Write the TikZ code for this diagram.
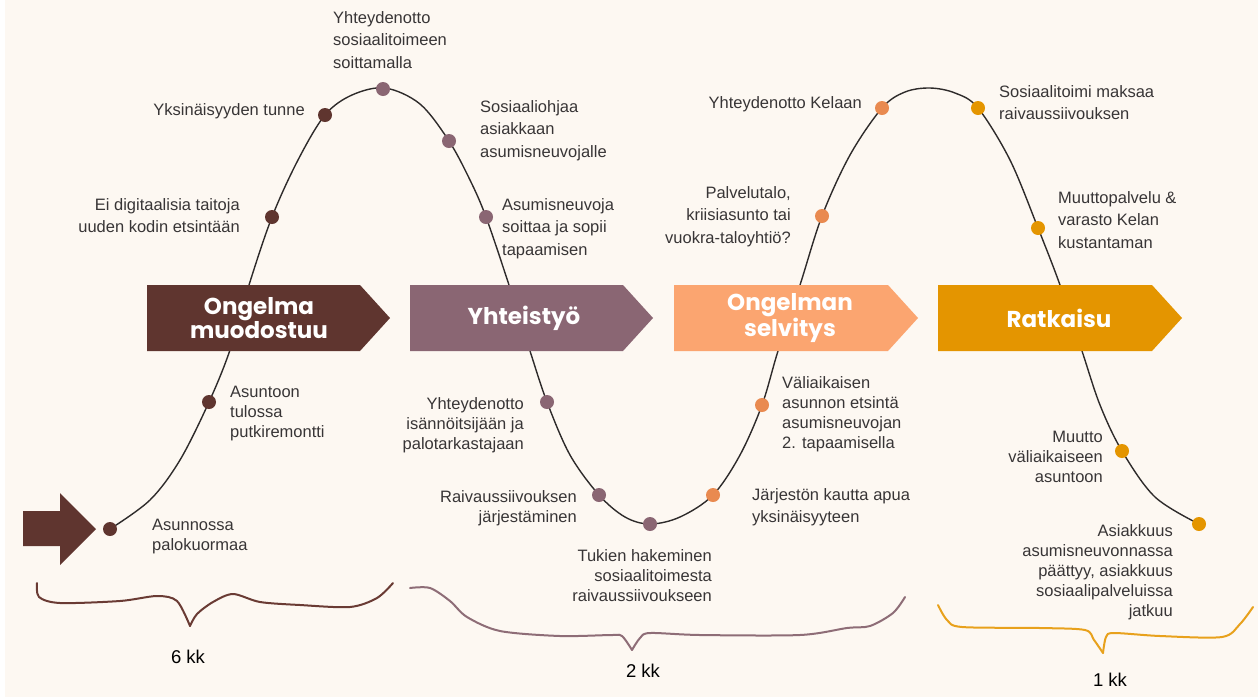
\documentclass[tikz,border=0pt]{standalone}
\usepackage{fontspec}
\setmainfont{Liberation Sans}
\newfontfamily\headfont{Poppins}
\definecolor{cream}{HTML}{FDF8F2}
\definecolor{ink}{HTML}{383536}
\definecolor{linec}{HTML}{2E2B2B}
\definecolor{cbrown}{HTML}{5F352F}
\definecolor{cmauve}{HTML}{8A6673}
\definecolor{cpeach}{HTML}{FBA570}
\definecolor{corange}{HTML}{E98A50}
\definecolor{camber}{HTML}{E49500}
\definecolor{bbrown}{HTML}{6A3B34}
\definecolor{bmauve}{HTML}{8E6D77}
\definecolor{bamber}{HTML}{E8A11C}
\begin{document}
\begin{tikzpicture}[x=1pt,y=-1pt,
  lbl/.style={inner sep=0pt, text=ink, font=\fontsize{16.5}{22.5}\selectfont},
  lblt/.style={inner sep=0pt, text=ink, font=\fontsize{16.5}{20}\selectfont},
  dot/.style={circle, inner sep=0pt, minimum size=14pt, fill=#1},
  head/.style={inner sep=0pt, text=white, align=center,
    font=\headfont\bfseries\fontsize{23}{23}\selectfont},
  wave/.style={linec, line width=1.4pt},
  brace/.style={line width=2pt, line cap=round, line join=round},
  months/.style={inner sep=0pt, text=black, font=\fontsize{18.5}{18.5}\selectfont}]

% page
\useasboundingbox (0,0) rectangle (1258,697);
\fill[white] (0,0) rectangle (1258,697);
\fill[cream] (5,0) rectangle (1258,697);

% the process curve
\draw[wave] plot[smooth, tension=0.55] coordinates {
  (110,529) (150,500) (180,460) (209,402) (230,350) (249,285) (272,217)
  (298,160) (325,115) (352,95) (385,88) (420,104) (449,141) (470,180)
  (486,217) (509,285) (530,351) (547,402) (570,455) (599,495) (625,517)
  (650,524) (680,517) (713,495) (740,455) (762,405) (778,351) (800,285)
  (822,216) (850,155) (882,108) (905,92) (930,88) (955,93) (978,108)
  (1010,160) (1038,228) (1060,285) (1082,351) (1100,405) (1122,451)
  (1155,497) (1199,524)};

% phase chevrons
\fill[cbrown] (147,285) -- (360,285) -- (390,318) -- (360,351) -- (147,351) -- cycle;
\fill[cmauve] (410,285) -- (623,285) -- (653,318) -- (623,351) -- (410,351) -- cycle;
\fill[cpeach] (674,285) -- (888,285) -- (918,318) -- (888,351) -- (674,351) -- cycle;
\fill[camber] (938,285) -- (1152,285) -- (1182,318) -- (1152,351) -- (938,351) -- cycle;
\node[head] (h1) at (259,318) {Ongelma\\muodostuu};
\node[head] (h2) at (524,318) {Yhteistyö};
\node[head] (h3) at (790,318) {Ongelman\\selvitys};
\node[head] (h4) at (1059,318) {Ratkaisu};

% start arrow
\fill[cbrown] (23,511) -- (60,511) -- (60,493) -- (96,529) -- (60,565) -- (60,546) -- (23,546) -- cycle;

% milestones
\node[dot=cbrown] (d1) at (110,529) {};
\node[dot=cbrown] (d2) at (209,402) {};
\node[dot=cbrown] (d3) at (272,217) {};
\node[dot=cbrown] (d4) at (325,115) {};
\node[dot=cmauve] (d5) at (383,89) {};
\node[dot=cmauve] (d6) at (449,141) {};
\node[dot=cmauve] (d7) at (486,217) {};
\node[dot=cmauve] (d8) at (547,402) {};
\node[dot=cmauve] (d9) at (599,495) {};
\node[dot=cmauve] (d10) at (650,524) {};
\node[dot=corange] (d11) at (713,495) {};
\node[dot=corange] (d12) at (762,405) {};
\node[dot=corange] (d13) at (822,216) {};
\node[dot=corange] (d14) at (882,108) {};
\node[dot=camber] (d15) at (978,108) {};
\node[dot=camber] (d16) at (1038,228) {};
\node[dot=camber] (d17) at (1122,451) {};
\node[dot=camber] (d18) at (1199,524) {};

% upper labels
\node[lbl, anchor=north west, align=left] (l5) at (333,11) {Yhteydenotto\\sosiaalitoimeen\\soittamalla};
\node[lbl, anchor=north east] (l4) at (305,103) {Yksinäisyyden tunne};
\node[lbl, anchor=north east, align=right] (l3) at (240,198) {Ei digitaalisia taitoja\\uuden kodin etsintään};
\node[lbl, anchor=north west, align=left] (l6) at (480,100) {Sosiaaliohjaa\\asiakkaan\\asumisneuvojalle};
\node[lbl, anchor=north west, align=left] (l7) at (502,198) {Asumisneuvoja\\soittaa ja sopii\\tapaamisen};
\node[lbl, anchor=north east] (l14) at (862,96) {Yhteydenotto Kelaan};
\node[lbl, anchor=north east, align=right] (l13) at (791,186) {Palvelutalo,\\kriisiasunto tai\\vuokra-taloyhtiö?};
\node[lbl, anchor=north west, align=left] (l15) at (999,85) {Sosiaalitoimi maksaa\\raivaussiivouksen};
\node[lbl, anchor=north west, align=left] (l16) at (1058,191) {Muuttopalvelu \&\\varasto Kelan\\kustantaman};

% lower labels
\node[lblt, anchor=north west, align=left] (l2) at (230,386) {Asuntoon\\tulossa\\putkiremontti};
\node[lblt, anchor=north west, align=left] (l1) at (152,519) {Asunnossa\\palokuormaa};
\node[lblt, anchor=north east, align=right] (l8) at (524,397) {Yhteydenotto\\isännöitsijään ja\\palotarkastajaan};
\node[lblt, anchor=north east, align=right] (l9) at (577,490) {Raivaussiivouksen\\järjestäminen};
\node[lblt, anchor=north east, align=right] (l10) at (712,549) {Tukien hakeminen\\sosiaalitoimesta\\raivaussiivoukseen};
\node[lblt, anchor=north west, align=left] (l12) at (782,376) {Väliaikaisen\\asunnon etsintä\\asumisneuvojan\\2. tapaamisella};
\node[lbl, anchor=north west, align=left] (l11) at (752,488) {Järjestön kautta apua\\yksinäisyyteen};
\node[lblt, anchor=north east, align=right] (l17) at (1103,431) {Muutto\\väliaikaiseen\\asuntoon};
\node[lblt, anchor=north east, align=right] (l18) at (1173,524) {Asiakkuus\\asumisneuvonnassa\\päättyy, asiakkuus\\sosiaalipalveluissa\\jatkuu};

% duration braces
\draw[brace, bbrown] plot[smooth, tension=0.5] coordinates {
  (37,583) (39,597) (60,603) (120,601) (157,596) (177,601) (190,626)};
\draw[brace, bbrown] plot[smooth, tension=0.5] coordinates {
  (190,626) (197,614) (213,602) (233,594) (260,602) (300,605) (350,607)
  (377,598) (393,583)};
\draw[brace, bmauve] plot[smooth, tension=0.5] coordinates {
  (410,588) (430,588) (450,601) (467,617) (500,631) (560,636) (612,635)
  (622,636) (632,650)};
\draw[brace, bmauve] plot[smooth, tension=0.5] coordinates {
  (632,650) (640,638) (650,633) (700,635) (800,635) (847,628) (870,626)
  (893,613) (905,597)};
\draw[brace, bamber] plot[smooth, tension=0.5] coordinates {
  (938,605) (947,620) (962,627) (1040,628) (1085,630) (1094,640) (1103,653)};
\draw[brace, bamber] plot[smooth, tension=0.5] coordinates {
  (1103,653) (1106,637) (1114,633) (1160,636) (1222,637) (1240,624) (1253,607)};
\node[months] (m1) at (188,657) {6 kk};
\node[months] (m2) at (643,671) {2 kk};
\node[months] (m3) at (1110,680) {1 kk};
\end{tikzpicture}
\end{document}
